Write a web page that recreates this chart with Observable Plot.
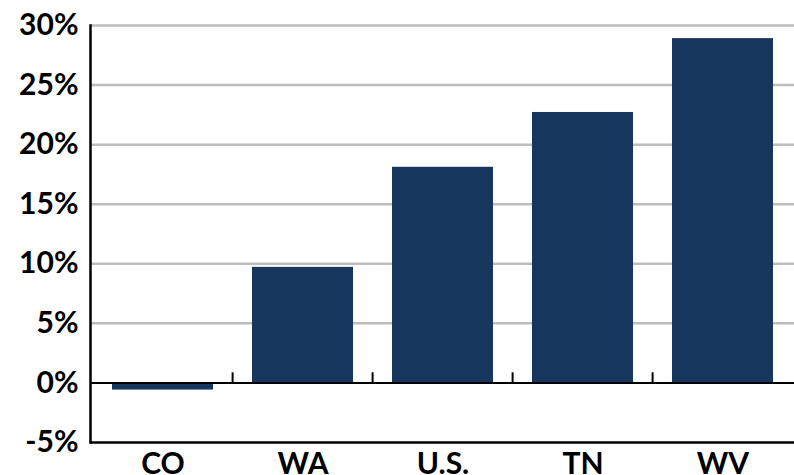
<!DOCTYPE html>
<html>
<head>
<meta charset="utf-8">
<script src="https://cdn.jsdelivr.net/npm/d3@7"></script>
<script src="https://cdn.jsdelivr.net/npm/@observablehq/plot@0.6"></script>
<style>
  body { margin: 0; background: #fff; }
  #chart svg { display: block; }
</style>
</head>
<body>
<div id="chart"></div>
<script>
const categories = ["CO", "WA", "U.S.", "TN", "WV"];
const values = [-0.6, 9.7, 18.1, 22.7, 28.9];
const yTicks = [-5, 0, 5, 10, 15, 20, 25, 30];
const gridTicks = [5, 10, 15, 20, 25, 30];

const data = categories.map((c, i) => ({category: c, value: values[i]}));

const W = 794, H = 475, ML = 90, MR = 0, MT = 25, MB = 33;
const step = (W - ML - MR) / categories.length;

const chart = Plot.plot({
  width: W,
  height: H,
  marginLeft: ML,
  marginRight: MR,
  marginTop: MT,
  marginBottom: MB,
  style: {fontFamily: "Lato, 'DejaVu Sans', sans-serif", fontWeight: "bold", fontSize: "30px", color: "#000", background: "#fff"},
  x: {domain: categories, paddingInner: 0.28, paddingOuter: 0.14, label: null},
  y: {domain: [-5, 30], label: null},
  marks: [
    Plot.ruleY(gridTicks, {stroke: "#bdbdbd", strokeWidth: 2.5}),
    Plot.barY(data, {x: "category", y: "value", fill: "#17365d"}),
    Plot.ruleY([0], {stroke: "#000", strokeWidth: 2}),
    Plot.ruleY([-5], {stroke: "#000", strokeWidth: 2.5}),
    Plot.ruleX(categories.slice(1), {x: d => d, y1: 0, y2: 0.85, dx: -step / 2, stroke: "#000", strokeWidth: 2}),
    Plot.frame({anchor: "left", stroke: "#000", strokeWidth: 2.5}),
    Plot.axisY(yTicks, {tickSize: 0, tickPadding: 12, tickFormat: d => d + "%", fontSize: 30, fontWeight: "bold"}),
    Plot.axisX({tickSize: 0, tickPadding: 10, fontSize: 30, fontWeight: "bold"})
  ]
});
document.getElementById("chart").appendChild(chart);
</script>
</body>
</html>
